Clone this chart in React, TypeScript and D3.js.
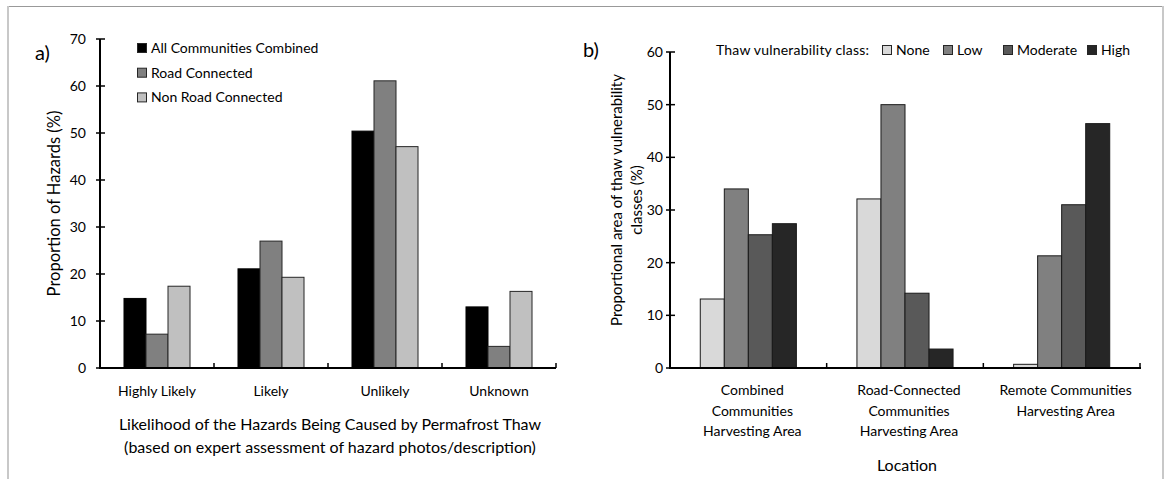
import React from 'react';
import * as d3 from 'd3';

// panel a data
const likelihood = ['Highly Likely', 'Likely', 'Unlikely', 'Unknown'];
const groupsA = ['All Communities Combined', 'Road Connected', 'Non Road Connected'];
const allCombined = [14.8, 21.1, 50.4, 13.0];
const roadConnected = [7.2, 27.0, 61.1, 4.6];
const nonRoad = [17.4, 19.3, 47.1, 16.3];
const ticksA = [0, 10, 20, 30, 40, 50, 60, 70];

// panel b data
const locations = [
  ['Combined', 'Communities', 'Harvesting Area'],
  ['Road-Connected', 'Communities', 'Harvesting Area'],
  ['Remote Communities', 'Harvesting Area'],
];
const classes = ['None', 'Low', 'Moderate', 'High'];
const noneVals = [13.1, 32.1, 0.7];
const lowVals = [34.0, 50.0, 21.3];
const moderateVals = [25.3, 14.2, 31.0];
const highVals = [27.4, 3.6, 46.4];
const ticksB = [0, 10, 20, 30, 40, 50, 60];

const FONT = 'Lato, "DejaVu Sans", sans-serif';
const colorsA = ['#000000', '#808080', '#c0c0c0'];
const colorsB = ['#d9d9d9', '#808080', '#595959', '#262626'];

const W = 1167;
const H = 479;

function PanelA() {
  const seriesVals = [allCombined, roadConnected, nonRoad];
  const x0 = d3.scaleBand<string>().domain(likelihood).range([100, 556]);
  const x1 = d3.scaleBand<string>().domain(groupsA).range([0, x0.bandwidth()]).paddingOuter(1.09);
  const y = d3.scaleLinear().domain([0, 70]).range([368, 39]);
  const bounds = d3.range(likelihood.length + 1).map(i => 100 + i * x0.step());
  return (
    <g>
      <text x={35} y={60} fontSize={20} fontFamily={FONT}>a)</text>
      {likelihood.map((c, i) => (
        <g key={c}>
          {groupsA.map((s, j) => (
            <rect key={s}
              x={(x0(c) as number) + (x1(s) as number)}
              y={y(seriesVals[j][i])}
              width={x1.bandwidth()}
              height={y(0) - y(seriesVals[j][i])}
              fill={colorsA[j]}
              stroke={j === 0 ? '#000' : '#262626'}
              strokeWidth={1}
            />
          ))}
          <text x={(x0(c) as number) + x0.bandwidth() / 2} y={396} textAnchor="middle"
            fontSize={14} fontFamily={FONT}>{c}</text>
        </g>
      ))}
      {/* y axis */}
      <line x1={100} x2={100} y1={y(70)} y2={y(0)} stroke="#000" strokeWidth={2} />
      {ticksA.map(t => (
        <g key={t}>
          <line x1={96} x2={105} y1={y(t)} y2={y(t)} stroke="#000" strokeWidth={1.5} />
          <text x={86} y={y(t)} dy="0.35em" textAnchor="end" fontSize={14} fontFamily={FONT}>{t}</text>
        </g>
      ))}
      {/* x axis */}
      <line x1={99} x2={556} y1={y(0)} y2={y(0)} stroke="#000" strokeWidth={2} />
      {bounds.map(b => (
        <line key={b} x1={b} x2={b} y1={y(0)} y2={y(0) - 5} stroke="#000" strokeWidth={1.5} />
      ))}
      <text transform={`translate(60,${(y(0) + y(70)) / 2}) rotate(-90)`} textAnchor="middle"
        fontSize={16.5} fontFamily={FONT}>Proportion of Hazards (%)</text>
      <text x={330} y={430} textAnchor="middle" fontSize={16} fontFamily={FONT}>
        Likelihood of the Hazards Being Caused by Permafrost Thaw
      </text>
      <text x={330} y={453} textAnchor="middle" fontSize={16} fontFamily={FONT}>
        (based on expert assessment of hazard photos/description)
      </text>
      {/* legend */}
      {groupsA.map((s, j) => (
        <g key={s} transform={`translate(137,${48 + j * 24.7})`}>
          <rect x={0.5} y={-4.5} width={9} height={9} fill={colorsA[j]} stroke="#262626" strokeWidth={1} />
          <text x={14} y={0} dy="0.35em" fontSize={14} fontFamily={FONT}>{s}</text>
        </g>
      ))}
    </g>
  );
}

function PanelB() {
  const seriesVals = [noneVals, lowVals, moderateVals, highVals];
  const keys = locations.map(l => l.join(' '));
  const x0 = d3.scaleBand<string>().domain(keys).range([670, 1140]);
  const x1 = d3.scaleBand<string>().domain(classes).range([0, x0.bandwidth()]).paddingOuter(1.26);
  const y = d3.scaleLinear().domain([0, 60]).range([368, 52]);
  const bounds = d3.range(keys.length + 1).map(i => 670 + i * x0.step());
  const legendX = [882, 943, 1003, 1087];
  return (
    <g>
      <text x={583} y={57} fontSize={20} fontFamily={FONT}>b)</text>
      {keys.map((k, i) => (
        <g key={k}>
          {classes.map((s, j) => (
            <rect key={s}
              x={(x0(k) as number) + (x1(s) as number)}
              y={y(seriesVals[j][i])}
              width={x1.bandwidth()}
              height={y(0) - y(seriesVals[j][i])}
              fill={colorsB[j]}
              stroke="#1a1a1a"
              strokeWidth={1}
            />
          ))}
          {locations[i].map((line, li) => (
            <text key={li} x={(x0(k) as number) + x0.bandwidth() / 2 + 4} y={395 + li * 20.5}
              textAnchor="middle" fontSize={14} fontFamily={FONT}>{line}</text>
          ))}
        </g>
      ))}
      <line x1={670} x2={670} y1={y(60)} y2={y(0)} stroke="#000" strokeWidth={2} />
      {ticksB.map(t => (
        <g key={t}>
          <line x1={666} x2={675} y1={y(t)} y2={y(t)} stroke="#000" strokeWidth={1.5} />
          <text x={663} y={y(t)} dy="0.35em" textAnchor="end" fontSize={14} fontFamily={FONT}>{t}</text>
        </g>
      ))}
      <line x1={669} x2={1141} y1={y(0)} y2={y(0)} stroke="#000" strokeWidth={2} />
      {bounds.map(b => (
        <line key={b} x1={b} x2={b} y1={y(0)} y2={y(0) - 5} stroke="#000" strokeWidth={1.5} />
      ))}
      <text transform={`translate(622,200) rotate(-90)`} textAnchor="middle"
        fontSize={15} fontFamily={FONT}>Proportional area of thaw vulnerability</text>
      <text transform={`translate(642,200) rotate(-90)`} textAnchor="middle"
        fontSize={15} fontFamily={FONT}>classes (%)</text>
      <text x={907} y={471} textAnchor="middle" fontSize={16} fontFamily={FONT}>Location</text>
      {/* legend */}
      <g transform="translate(0,50)">
        <text x={716} y={0} dy="0.35em" fontSize={14} letterSpacing={0.2} fontFamily={FONT}>Thaw vulnerability class:</text>
        {classes.map((c, j) => (
          <g key={c} transform={`translate(${legendX[j]},0)`}>
            <rect x={0.5} y={-4.5} width={9} height={9} fill={colorsB[j]} stroke="#262626" strokeWidth={1} />
            <text x={14} y={0} dy="0.35em" fontSize={14} fontFamily={FONT}>{c}</text>
          </g>
        ))}
      </g>
    </g>
  );
}

export default function App() {
  return (
    <svg width={W} height={H} style={{ position: 'absolute', left: 0, top: 0, background: '#fff' }}>
      <rect x={0} y={0} width={W} height={H} fill="#fff" />
      <line x1={7} x2={1164} y1={6.5} y2={6.5} stroke="#999" strokeWidth={1} />
      <line x1={8} x2={8} y1={6} y2={H} stroke="#c8c8c8" strokeWidth={2} />
      <line x1={1163} x2={1163} y1={6} y2={H} stroke="#c8c8c8" strokeWidth={2} />
      <PanelA />
      <PanelB />
    </svg>
  );
}
